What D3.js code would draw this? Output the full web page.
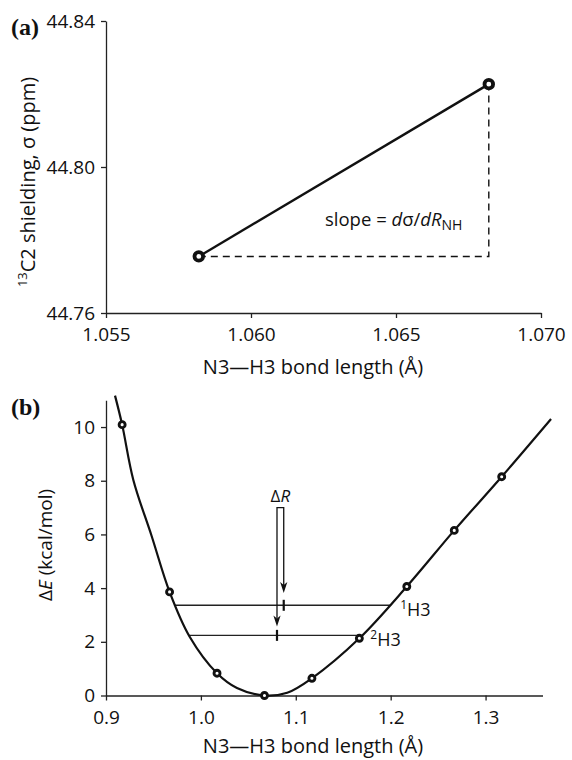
<!DOCTYPE html>
<html><head><meta charset="utf-8">
<script src="https://cdn.jsdelivr.net/npm/d3@7"></script>
<style>
body{margin:0;background:#fff}
svg{display:block}
text{font-family:"Open Sans","Noto Sans",sans-serif;fill:#111}
</style>
</head><body>
<svg id="c" width="572" height="760"></svg>
<script>
// ---------- Panel (a) data ----------
const aBondLength = [1.0582, 1.0682];
const aShielding = [44.7755, 44.8227];
const aXTicks = [1.055, 1.060, 1.065, 1.070];
const aYTicks = [44.76, 44.80, 44.84];

// ---------- Panel (b) data ----------
const bBondLength = [0.917, 0.967, 1.017, 1.067, 1.117, 1.167, 1.217, 1.267, 1.317];
const bEnergy     = [10.09, 3.86, 0.83, 0.00, 0.64, 2.13, 4.06, 6.15, 8.15];
// fitted curve
const bCurveX = [0.9095, 0.917, 0.9288, 0.948, 0.967, 0.988, 1.017, 1.038, 1.067, 1.091, 1.117, 1.167, 1.217, 1.267, 1.317, 1.369];
const bCurveY = [11.17, 10.09, 8.03, 5.95, 3.86, 2.20, 0.83, 0.28, 0.00, 0.10, 0.64, 2.13, 4.06, 6.15, 8.15, 10.30];
const bXTicks = [0.9, 1.0, 1.1, 1.2, 1.3];
const bYTicks = [0, 2, 4, 6, 8, 10];
// zero-point levels
const isotopeMass = ["1", "2"];
const levelEnergy = [3.36, 2.24];
const levelLeft   = [0.9727, 0.987];
const levelRight  = [1.2005, 1.169];
const avgBond     = [1.0873, 1.0802];
const arrowTipE   = [3.82, 2.57];
const bracketTopE = 7.0;

const svg = d3.select("#c");
const INK = "#111";
const SANS = '"Open Sans","Noto Sans",sans-serif';
const SERIF = '"Liberation Serif","DejaVu Serif",serif';

function styleAxis(g){
  g.attr("font-size", 19).attr("font-family", SANS);
  g.select(".domain").attr("stroke", "#222").attr("stroke-width", 1.3);
  g.selectAll(".tick line").attr("stroke", "#222").attr("stroke-width", 1.3);
  g.selectAll(".tick text").attr("fill", INK);
}

// ================= Panel (a) =================
const ax = d3.scaleLinear().domain([1.055, 1.070]).range([106, 541]);
const ay = d3.scaleLinear().domain([44.76, 44.84]).range([313, 21]);

svg.append("g").attr("transform", `translate(0,${ay(44.76)})`)
  .call(d3.axisBottom(ax).tickValues(aXTicks).tickFormat(d3.format(".3f"))
    .tickSize(5).tickSizeOuter(0).tickPadding(10))
  .call(styleAxis);
svg.append("g").attr("transform", `translate(${ax(1.055)},0)`)
  .call(d3.axisLeft(ay).tickValues(aYTicks).tickFormat(d3.format(".2f"))
    .tickSize(5).tickSizeOuter(0).tickPadding(6))
  .call(styleAxis);

// dashed triangle
svg.append("path")
  .attr("d", `M${ax(aBondLength[0])},${ay(aShielding[0])}H${ax(aBondLength[1])}V${ay(aShielding[1])}`)
  .attr("fill", "none").attr("stroke", INK).attr("stroke-width", 1.4).attr("stroke-dasharray", "7,5");

const aPts = aBondLength.map((d, i) => [d, aShielding[i]]);
svg.append("path").datum(aPts)
  .attr("d", d3.line().x(d => ax(d[0])).y(d => ay(d[1])))
  .attr("fill", "none").attr("stroke", INK).attr("stroke-width", 2.4);
svg.selectAll(".pa").data(aPts).join("circle")
  .attr("cx", d => ax(d[0])).attr("cy", d => ay(d[1])).attr("r", 4.3)
  .attr("fill", "#fff").attr("stroke", INK).attr("stroke-width", 3.8);

// slope text
const st = svg.append("text").attr("x", 325).attr("y", 226).attr("font-size", 18.5);
st.append("tspan").text("slope = ");
st.append("tspan").attr("font-style", "italic").text("d");
st.append("tspan").text("σ/");
st.append("tspan").attr("font-style", "italic").text("dR");
st.append("tspan").attr("font-size", 14).attr("dy", 4).text("NH");

// labels
svg.append("text").attr("x", 11).attr("y", 35)
  .attr("font-weight", "bold").attr("font-size", 24).style("font-family", SERIF).text("(a)");
const ayl = svg.append("text").attr("transform", "translate(35,182) rotate(-90)")
  .attr("text-anchor", "middle").attr("font-size", 20);
ayl.append("tspan").attr("font-size", 13).attr("dy", -8).text("13");
ayl.append("tspan").attr("dy", 8).text("C2 shielding, σ (ppm)");
svg.append("text").attr("x", 313).attr("y", 374).attr("text-anchor", "middle").attr("font-size", 20)
  .text("N3—H3 bond length (Å)");

// ================= Panel (b) =================
const bx = d3.scaleLinear().domain([0.9, 1.36]).range([106, 542.5]);
const by = d3.scaleLinear().domain([0, 11]).range([695.5, 400.2]);

svg.append("g").attr("transform", `translate(0,${by(0)})`)
  .call(d3.axisBottom(bx).tickValues(bXTicks).tickFormat(d3.format(".1f"))
    .tickSize(5).tickSizeOuter(0).tickPadding(10))
  .call(styleAxis);
svg.append("g").attr("transform", `translate(${bx(0.9)},0)`)
  .call(d3.axisLeft(by).tickValues(bYTicks).tickFormat(d3.format("d"))
    .tickSize(5).tickSizeOuter(0).tickPadding(6))
  .call(styleAxis);

// levels
isotopeMass.forEach((m, i) => {
  const yL = by(levelEnergy[i]);
  svg.append("line").attr("x1", bx(levelLeft[i])).attr("x2", bx(levelRight[i]))
    .attr("y1", yL).attr("y2", yL).attr("stroke", "#222").attr("stroke-width", 1.4);
  svg.append("line").attr("x1", bx(avgBond[i])).attr("x2", bx(avgBond[i]))
    .attr("y1", yL - 5.5).attr("y2", yL + 5.5).attr("stroke", INK).attr("stroke-width", 2.2);
  const t = svg.append("text").attr("x", bx(levelRight[i]) + 9).attr("y", yL + 11).attr("font-size", 18);
  t.append("tspan").attr("font-size", 12).attr("dy", -7).text(m);
  t.append("tspan").attr("dy", 7).text("H3");
});

// ΔR bracket with arrows
const topY = by(bracketTopE);
svg.append("path")
  .attr("d", `M${bx(avgBond[1])},${by(arrowTipE[1]) - 8}V${topY}H${bx(avgBond[0])}V${by(arrowTipE[0]) - 8}`)
  .attr("fill", "none").attr("stroke", INK).attr("stroke-width", 1.3);
avgBond.forEach((b, i) => {
  const x = bx(b), y = by(arrowTipE[i]);
  svg.append("path").attr("d", `M${x},${y}L${x - 3.6},${y - 11}L${x},${y - 8}L${x + 3.6},${y - 11}Z`)
    .attr("fill", INK);
});
const dr = svg.append("text").attr("x", bx((avgBond[0] + avgBond[1]) / 2)).attr("y", 502)
  .attr("text-anchor", "middle").attr("font-size", 17);
dr.append("tspan").text("Δ");
dr.append("tspan").attr("font-style", "italic").text("R");

// curve
const curvePts = bCurveX.map((d, i) => [d, bCurveY[i]]);
svg.append("path").datum(curvePts)
  .attr("d", d3.line().x(d => bx(d[0])).y(d => by(d[1])).curve(d3.curveCatmullRom.alpha(0.5)))
  .attr("fill", "none").attr("stroke", INK).attr("stroke-width", 2.2);

const bPts = bBondLength.map((d, i) => [d, bEnergy[i]]);
svg.selectAll(".pb").data(bPts).join("circle")
  .attr("cx", d => bx(d[0])).attr("cy", d => by(d[1])).attr("r", 3)
  .attr("fill", "#fff").attr("stroke", INK).attr("stroke-width", 2.9);

// labels
svg.append("text").attr("x", 11).attr("y", 415)
  .attr("font-weight", "bold").attr("font-size", 24).style("font-family", SERIF).text("(b)");
const byl = svg.append("text").attr("transform", "translate(52,545) rotate(-90)")
  .attr("text-anchor", "middle").attr("font-size", 19);
byl.append("tspan").text("Δ");
byl.append("tspan").attr("font-style", "italic").text("E");
byl.append("tspan").text(" (kcal/mol)");
svg.append("text").attr("x", 313).attr("y", 753).attr("text-anchor", "middle").attr("font-size", 20)
  .text("N3—H3 bond length (Å)");
</script>
</body></html>
